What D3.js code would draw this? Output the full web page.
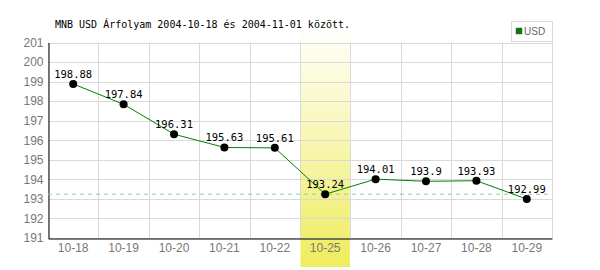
<!DOCTYPE html>
<html><head><meta charset="utf-8">
<script src="https://cdn.jsdelivr.net/npm/d3@7"></script>
<style>body{margin:0;background:#fff}</style>
</head><body>
<svg id="c" width="600" height="270"></svg>
<script>
const categories = ["10-18","10-19","10-20","10-21","10-22","10-25","10-26","10-27","10-28","10-29"];
const values = [198.88,197.84,196.31,195.63,195.61,193.24,194.01,193.9,193.93,192.99];
const yTicks = [191,192,193,194,195,196,197,198,199,200,201];
const highlight = "10-25";
const refValue = 193.24;
const title = "MNB USD Árfolyam 2004-10-18 és 2004-11-01 között.";
const seriesName = "USD";

const svg = d3.select("#c");
const L = 48, R = 552, T = 42.5, B = 238;
const x = d3.scaleBand().domain(categories).range([L, R]);
const y = d3.scaleLinear().domain([191, 201]).range([B, T]);

const defs = svg.append("defs");
const g = defs.append("linearGradient").attr("id","hl").attr("x1",0).attr("y1",0).attr("x2",0).attr("y2",1);
g.append("stop").attr("offset","0%").attr("stop-color","#ffffff");
g.append("stop").attr("offset","100%").attr("stop-color","#efec5c");

// highlight band
svg.append("rect").attr("x", x(highlight)+0.5).attr("y", 25).attr("width", x.bandwidth()-1).attr("height", 242)
  .attr("fill","url(#hl)");

// grid
svg.append("g").selectAll("line").data(yTicks).join("line")
  .attr("x1", L).attr("x2", R).attr("y1", d=>Math.round(y(d))+0.5).attr("y2", d=>Math.round(y(d))+0.5)
  .attr("stroke","#d9d9d9");
svg.append("g").selectAll("line").data(categories.concat(["end"])).join("line")
  .attr("x1", (d,i)=>Math.round(L + i*x.bandwidth())+0.5).attr("x2", (d,i)=>Math.round(L + i*x.bandwidth())+0.5)
  .attr("y1", T).attr("y2", B)
  .attr("stroke","#d9d9d9");

// axes
const yAxis = svg.append("g").attr("transform",`translate(${L+0.5},0)`)
  .call(d3.axisLeft(y).tickValues(yTicks).tickSize(0).tickPadding(5));
yAxis.select(".domain").attr("stroke","#000");
yAxis.selectAll("text").attr("font-family","Liberation Sans, Arial, sans-serif").attr("font-size",12).attr("fill","#777");

const xAxis = svg.append("g").attr("transform",`translate(0,${B+0.5})`)
  .call(d3.axisBottom(x).tickSize(0).tickPadding(5));
xAxis.select(".domain").attr("stroke","#000");
xAxis.selectAll("text").attr("font-family","Liberation Sans, Arial, sans-serif").attr("font-size",12).attr("fill","#777");

// reference dashed line
svg.append("line").attr("x1", L).attr("x2", R).attr("y1", y(refValue)).attr("y2", y(refValue))
  .attr("stroke","#8fd08f").attr("stroke-dasharray","4,4");

// series line
const cx = d => x(d) + x.bandwidth()/2;
svg.append("path").datum(values)
  .attr("d", d3.line().x((d,i)=>cx(categories[i])).y(d=>y(d)))
  .attr("fill","none").attr("stroke","#008000").attr("stroke-width",1);

svg.append("g").selectAll("circle").data(values).join("circle")
  .attr("cx",(d,i)=>cx(categories[i])).attr("cy", d=>y(d)).attr("r",4).attr("fill","#000");

svg.append("g").selectAll("text").data(values).join("text")
  .attr("x",(d,i)=>cx(categories[i])).attr("y", d=>y(d)-6)
  .attr("text-anchor","middle").attr("font-family","DejaVu Sans Mono, monospace").attr("font-size",10.5)
  .attr("fill","#000").text(d=>d);

// title
svg.append("text").attr("x",55).attr("y",28).attr("font-family","DejaVu Sans Mono, monospace")
  .attr("font-size",10).attr("fill","#000").text(title);

// legend
svg.append("rect").attr("x",511.5).attr("y",21.5).attr("width",41).attr("height",20)
  .attr("fill","#fff").attr("stroke","#d9d9d9");
svg.append("rect").attr("x",516).attr("y",28).attr("width",6).attr("height",6)
  .attr("fill","#008000").attr("stroke","#555").attr("stroke-width",0.5);
svg.append("text").attr("x",524).attr("y",35).attr("font-family","Liberation Sans, Arial, sans-serif")
  .attr("font-size",10).attr("fill","#666").text(seriesName);
</script>
</body></html>
